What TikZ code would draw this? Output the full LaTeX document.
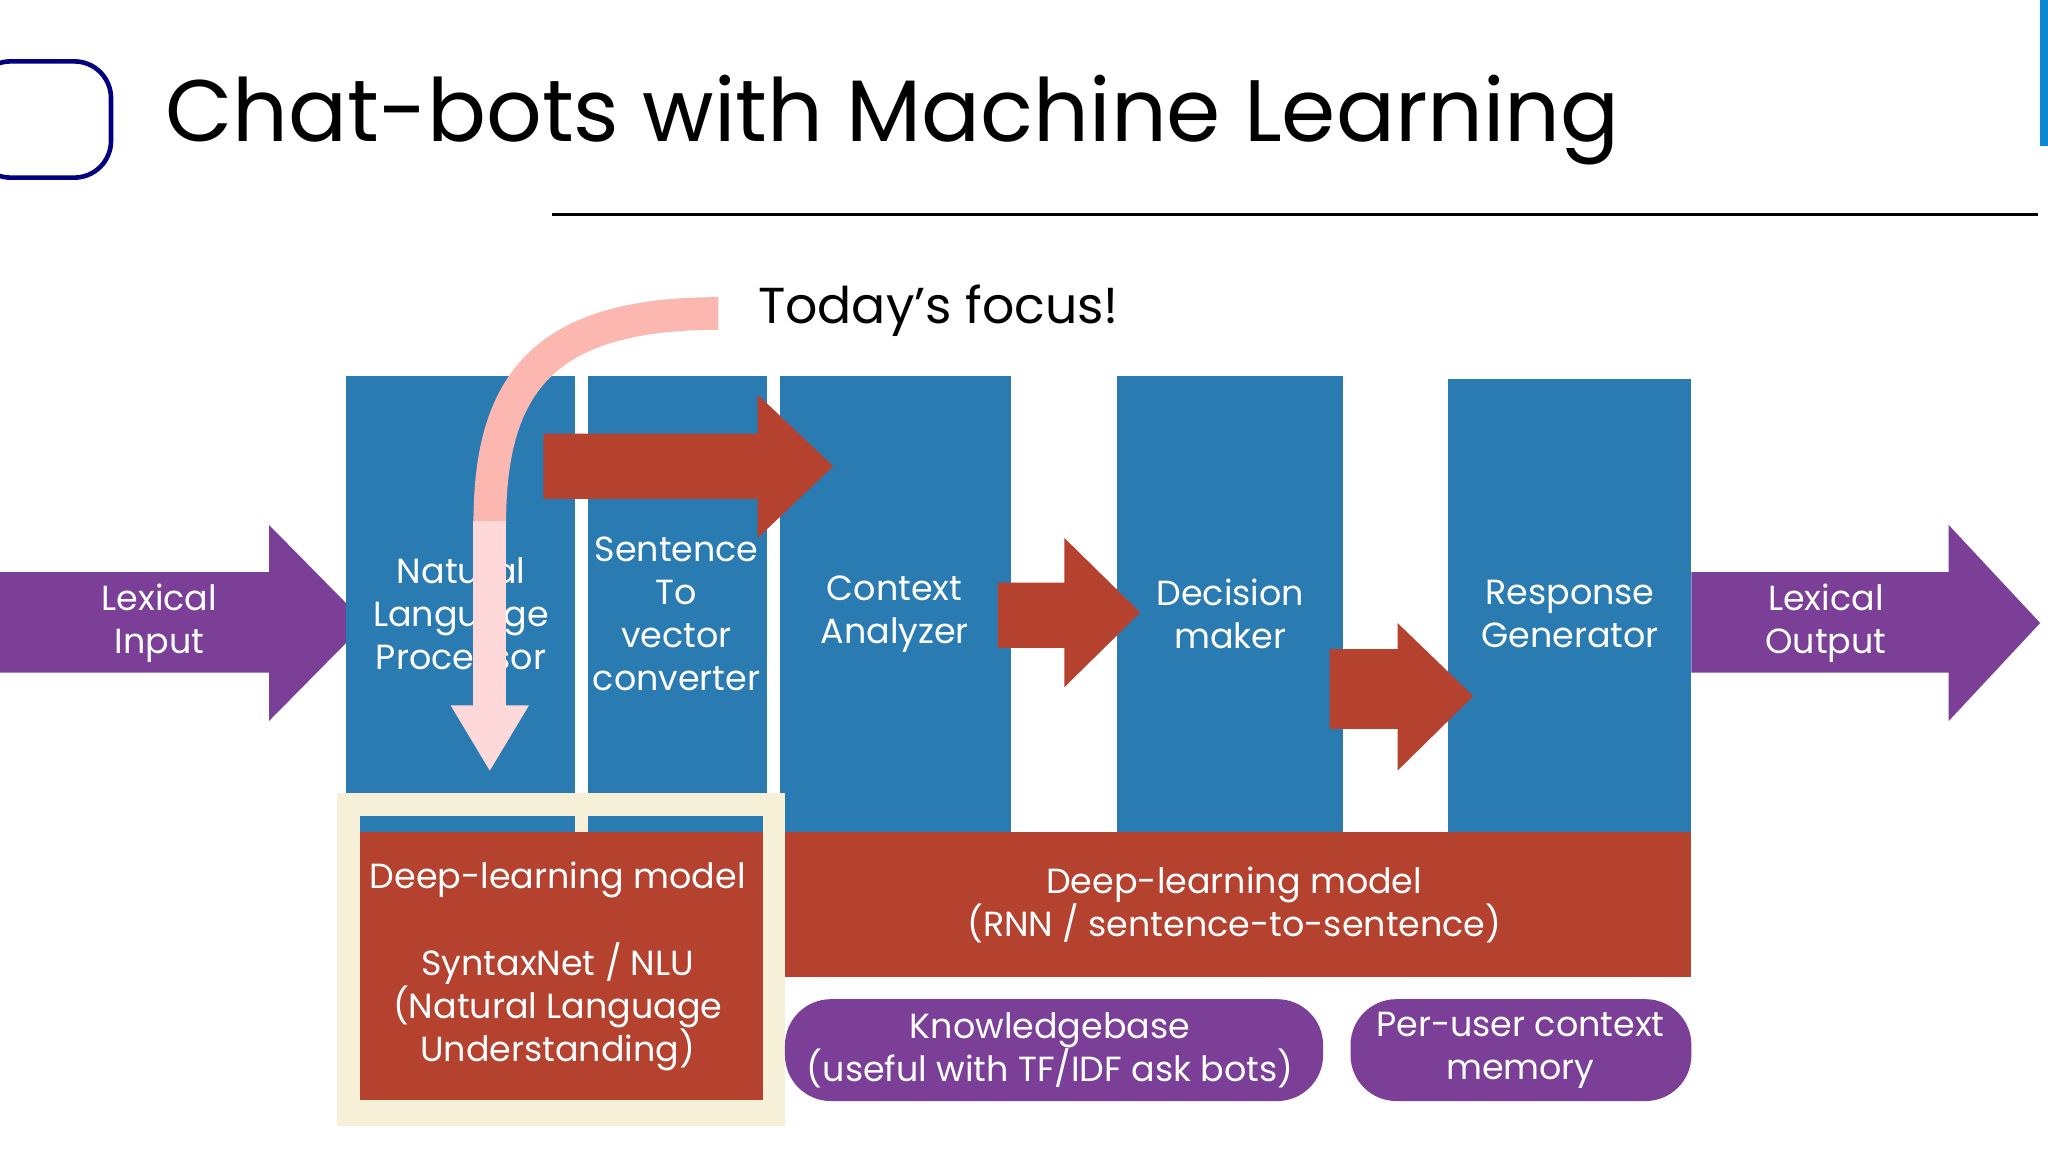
\documentclass[tikz,border=0pt]{standalone}
\usepackage{fontspec}
\setmainfont{Poppins}
\begin{document}
\begin{tikzpicture}[x=0.01cm,y=-0.01cm,
 blue box/.style={fill=bx,draw=none},
 lbl/.style={text=white,align=center,font=\fontsize{7.6}{9.4}\selectfont},
 rarrow/.style={fill=ar,draw=none},
 parrow/.style={fill=pa,draw=none}]
\definecolor{bx}{HTML}{2B7BB3}
\definecolor{ar}{HTML}{B5412F}
\definecolor{pa}{HTML}{7B3F98}
\definecolor{cr}{HTML}{F7F0D8}
\definecolor{pk}{HTML}{F6A99A}
\useasboundingbox (0,0) rectangle (1568,882);
\fill[white] (0,0) rectangle (1568,882);
% header
\draw[draw=blue!50!black,line width=1pt,rounded corners=8] (-20,47) rectangle (85,136);
\node[anchor=west,font=\fontsize{19}{23}\selectfont] (title) at (114,92) {Chat-bots with Machine Learning};
\coordinate (l1) at (423,164); \coordinate (l2) at (1560,164);
\draw[line width=0.6pt] (l1) -- (l2);
\fill[cyan!70!blue] (1562,0) rectangle (1568,112);
% purple side arrows
\fill[parrow] (0,438) -- (206,438) -- (206,402) -- (280,477) -- (206,552) -- (206,515) -- (0,515) -- cycle;
\fill[parrow] (1295,438) -- (1492,438) -- (1492,402) -- (1562,477) -- (1492,552) -- (1492,515) -- (1295,515) -- cycle;
\node[lbl] (li) at (122,477) {Lexical\\Input};
\node[lbl] (lo) at (1398,477) {Lexical\\Output};
% blue boxes
\fill[blue box] (265,288) rectangle (440,637);
\fill[blue box] (450,288) rectangle (587,637);
\fill[blue box] (597,288) rectangle (774,637);
\fill[blue box] (855,288) rectangle (1028,637);
\fill[blue box] (1109,290) rectangle (1295,637);
% red arrows
\fill[rarrow] (416,332) -- (580,332) -- (580,302) -- (638,357) -- (580,412) -- (580,382) -- (416,382) -- cycle;
\fill[rarrow] (764,446) -- (815,446) -- (815,412) -- (873,469) -- (815,526) -- (815,496) -- (764,496) -- cycle;
\fill[rarrow] (1018,497) -- (1070,497) -- (1070,477) -- (1128,533) -- (1070,590) -- (1070,558) -- (1018,558) -- cycle;
\node[lbl] (nlp) at (353,470) {Natural\\Language\\Processor};
\node[lbl] (sv) at (518,470) {Sentence\\To\\vector\\converter};
\node[lbl] (ca) at (685,470) {Context\\Analyzer};
\node[lbl] (dm) at (942,470) {Decision\\maker};
\node[lbl] (rg) at (1202,470) {Response\\Generator};
% bottom red
\fill[ar] (597,637) rectangle (1295,748);
\node[lbl] (dl2) at (945,693) {Deep-learning model\\(RNN / sentence-to-sentence)};
\fill[cr] (258,607) rectangle (601,862);
\fill[bx] (276,625) rectangle (584,637);
\fill[ar] (276,637) rectangle (584,842);
\fill[cr] (440,625) rectangle (450,637);
\node[lbl] (dl1) at (427,740) {Deep-learning model\\[9.4pt]SyntaxNet / NLU\\(Natural Language\\Understanding)};
% purple boxes
\fill[pa,rounded corners=10] (601,765) rectangle (1013,843);
\fill[pa,rounded corners=10] (1034,765) rectangle (1295,843);
\node[lbl] (kb) at (804,804) {Knowledgebase\\(useful with TF/IDF ask bots)};
\node[lbl] (pu) at (1164,804) {Per-user context\\memory};
% focus arrow
\coordinate (fs) at (550,240);
\coordinate (fe) at (375,545);
\draw[line width=0.25cm,pk!80!red!60,line cap=butt] (fs) .. controls (420,240) and (375,290) .. (375,400);
\draw[line width=0.25cm,pink!60!white] (375,399) -- (fe);
\fill[pink!60!white] (345,540) -- (405,540) -- (375,590) -- cycle;
\node[anchor=west,font=\fontsize{11}{13}\selectfont] (tf) at (568,238) {Today’s focus!};
\end{tikzpicture}
\end{document}
